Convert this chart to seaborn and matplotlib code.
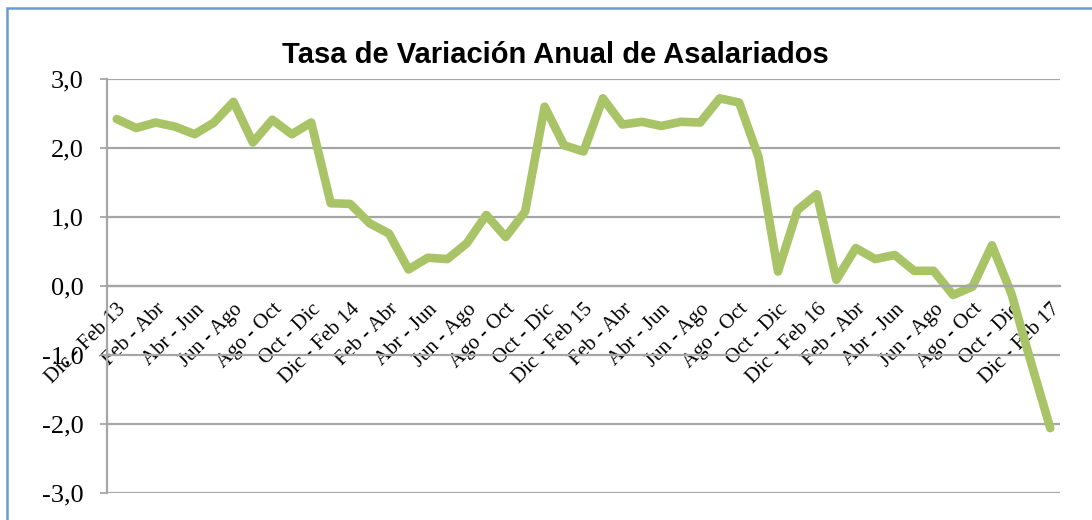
import matplotlib
matplotlib.use("Agg")
import matplotlib.pyplot as plt
import seaborn as sns
import pandas as pd
from matplotlib.patches import Rectangle

# tasa de variacion anual (%), trimestres moviles desde Dic-Feb 13 hasta Dic-Feb 17
values = [2.42, 2.29, 2.37, 2.31, 2.20, 2.37, 2.67, 2.08, 2.41, 2.20,
          2.37, 1.20, 1.19, 0.91, 0.76, 0.24, 0.41, 0.39, 0.62, 1.03,
          0.71, 1.08, 2.60, 2.04, 1.95, 2.72, 2.34, 2.38, 2.32, 2.38,
          2.37, 2.72, 2.66, 1.87, 0.21, 1.10, 1.33, 0.09, 0.55, 0.39,
          0.45, 0.22, 0.22, -0.13, -0.01, 0.59, -0.11, -1.10, -2.06]

# labels shown every second period
tick_labels = ["Dic - Feb 13", "Feb - Abr", "Abr - Jun", "Jun - Ago", "Ago - Oct", "Oct - Dic",
               "Dic - Feb 14", "Feb - Abr", "Abr - Jun", "Jun - Ago", "Ago - Oct", "Oct - Dic",
               "Dic - Feb 15", "Feb - Abr", "Abr - Jun", "Jun - Ago", "Ago - Oct", "Oct - Dic",
               "Dic - Feb 16", "Feb - Abr", "Abr - Jun", "Jun - Ago", "Ago - Oct", "Oct - Dic",
               "Dic - Feb 17"]

y_ticks = [-3, -2, -1, 0, 1, 2, 3]

df = pd.DataFrame({"periodo": range(len(values)), "tasa": values})

sns.set_style("white")
plt.rcParams["text.color"] = "black"
plt.rcParams["xtick.labelcolor"] = "black"
plt.rcParams["ytick.labelcolor"] = "black"

fig = plt.figure(figsize=(10.92, 5.2), dpi=100)
ax = fig.add_axes([0.098, 0.052, 0.8727, 0.796])

grey = "#a6a6a6"
sns.lineplot(data=df, x="periodo", y="tasa", ax=ax, color="#a9c466",
             linewidth=6.2, solid_capstyle="round", solid_joinstyle="round", sort=False)

# x axis crosses at zero (set before the tick labels: this resets the ticks)
ax.spines["bottom"].set_position(("data", 0))
for side in ["top", "right"]:
    ax.spines[side].set_visible(False)
for side in ["bottom", "left"]:
    ax.spines[side].set_color(grey)
    ax.spines[side].set_linewidth(1.6)

ax.set_xlim(-0.5, len(values) - 0.5)
ax.set_ylim(-3, 3)
ax.yaxis.grid(True, color=grey, linewidth=1.6)
ax.set_axisbelow(True)

# ticks between categories, labels on every second point
ax.set_xticks([i - 0.5 for i in range(len(values) + 1)])
ax.set_xticks(list(range(0, len(values), 2)), minor=True)
ax.tick_params(axis="x", which="major", direction="out", length=5, width=1.3, color=grey,
               labelbottom=False)
ax.tick_params(axis="x", which="minor", length=0, pad=10)
ax.tick_params(axis="y", direction="out", length=5, width=1.3, color=grey, pad=12, left=True)

ax.set_xticklabels(tick_labels, minor=True)
for lab in ax.get_xticklabels(minor=True):
    lab.set(rotation=45, ha="right", va="top", rotation_mode="anchor",
            fontfamily="Liberation Serif", fontsize=15, color="black")

ax.set_yticks(y_ticks)
ax.set_yticklabels([f"{v:.1f}".replace(".", ",") for v in y_ticks])
for lab in ax.get_yticklabels():
    lab.set(fontfamily="Liberation Serif", fontsize=19, color="black")

ax.set_xlabel("")
ax.set_ylabel("")

fig.text(555 / 1092, 1 - 55 / 520, "Tasa de Variación Anual de Asalariados",
         ha="center", va="center", fontfamily="Liberation Sans", fontweight="bold",
         fontsize=21, color="black")

fig.patches.append(Rectangle((7 / 1092, -0.1), 1.2, 1 - 8 / 520 + 0.1, transform=fig.transFigure,
                             fill=False, edgecolor="#6a9bd1", linewidth=1.8, clip_on=False))

fig.savefig("out.png", dpi=100)
